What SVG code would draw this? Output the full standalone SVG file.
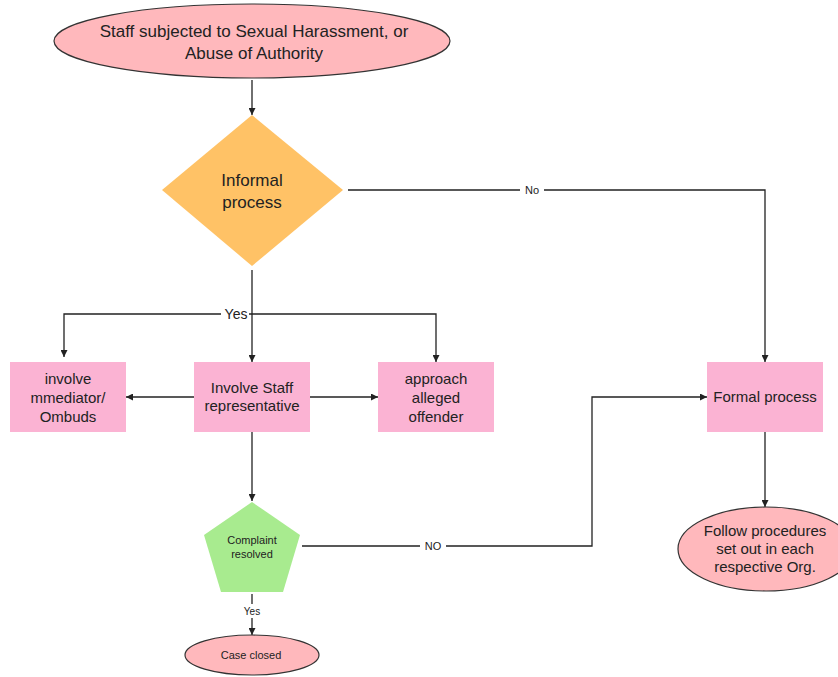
<svg xmlns="http://www.w3.org/2000/svg" width="838" height="677" viewBox="0 0 838 677">
<style>
text{font-family:"Liberation Sans",Arial,sans-serif;fill:#222;text-anchor:middle}
.t17{font-size:17px}
.t15{font-size:15px}
.t14{font-size:14px}
.t11{font-size:11px}
.t10{font-size:10px}
.lbl{font-size:11px}
.box{fill:#fbb3d3}
.oval{fill:#ffb8bc;stroke:#333;stroke-width:1.2}
.ln{fill:none;stroke:#222;stroke-width:1.3}
</style>
<defs>
<marker id="ah" viewBox="0 0 10 10" refX="10" refY="5" markerWidth="7" markerHeight="7" orient="auto" markerUnits="userSpaceOnUse"><path d="M0,0 L10,5 L0,10 z" fill="#222"/></marker>
</defs>
<rect width="838" height="677" fill="#fff"/>
<g id="connectors">
<path class="ln" d="M252,80 V115" marker-end="url(#ah)"/>
<path class="ln" d="M348,190 H765 V362" marker-end="url(#ah)"/>
<rect x="520" y="183" width="24" height="14" fill="#fff"/>
<text class="lbl" x="532" y="194">No</text>
<path class="ln" d="M252,270 V314" stroke-width="2"/>
<path class="ln" d="M252,314 H64 V357" marker-end="url(#ah)"/>
<path class="ln" d="M252,314 V362" marker-end="url(#ah)"/>
<path class="ln" d="M252,314 H436 V362" marker-end="url(#ah)"/>
<rect x="221" y="306" width="28" height="16" fill="#fff"/>
<text class="t14" x="236" y="319">Yes</text>
<path class="ln" d="M194,397 H126" marker-end="url(#ah)"/>
<path class="ln" d="M310,397 H378" marker-end="url(#ah)"/>
<path class="ln" d="M252,432 V501" marker-end="url(#ah)"/>
<path class="ln" d="M302,546 H592 V397 H707" marker-end="url(#ah)"/>
<rect x="420" y="539" width="26" height="14" fill="#fff"/>
<text class="lbl" x="433" y="550">NO</text>
<path class="ln" d="M252,594 V635" marker-end="url(#ah)"/>
<rect x="240" y="604" width="24" height="14" fill="#fff"/>
<text class="t10" x="252" y="615">Yes</text>
<path class="ln" d="M765,432 V507" marker-end="url(#ah)"/>
</g>
<g id="start">
<ellipse class="oval" cx="252" cy="41" rx="198" ry="37"/>
<text class="t17" x="254" y="37">Staff subjected to Sexual Harassment, or</text>
<text class="t17" x="254" y="59">Abuse of Authority</text>
</g>
<g id="informal">
<polygon points="252,115 343,190 252,266 162,190" fill="#ffc266"/>
<text class="t17" x="252" y="186">Informal</text>
<text class="t17" x="252" y="208">process</text>
</g>
<g id="mediator">
<rect class="box" x="10" y="362" width="116" height="70"/>
<text class="t15" x="68" y="384">involve</text>
<text class="t15" x="68" y="403">mmediator/</text>
<text class="t15" x="68" y="422">Ombuds</text>
</g>
<g id="staffrep">
<rect class="box" x="194" y="362" width="116" height="70"/>
<text class="t15" x="252" y="393">Involve Staff</text>
<text class="t15" x="252" y="411">representative</text>
</g>
<g id="approach">
<rect class="box" x="378" y="362" width="116" height="70"/>
<text class="t15" x="436" y="384">approach</text>
<text class="t15" x="436" y="403">alleged</text>
<text class="t15" x="436" y="422">offender</text>
</g>
<g id="formal">
<rect class="box" x="707" y="362" width="116" height="70"/>
<text class="t15" x="765" y="402">Formal process</text>
</g>
<g id="resolved">
<polygon points="252,502 300,535 283,592 221,592 204,535" fill="#a8eb8f"/>
<text class="t11" x="252" y="544">Complaint</text>
<text class="t11" x="252" y="558">resolved</text>
</g>
<g id="closed">
<ellipse class="oval" cx="252" cy="655" rx="67" ry="20"/>
<text class="t11" x="251" y="659">Case closed</text>
</g>
<g id="follow">
<ellipse class="oval" cx="766" cy="549" rx="88" ry="42"/>
<text class="t15" x="765" y="536">Follow procedures</text>
<text class="t15" x="765" y="554">set out in each</text>
<text class="t15" x="765" y="572">respective Org.</text>
</g>
</svg>
